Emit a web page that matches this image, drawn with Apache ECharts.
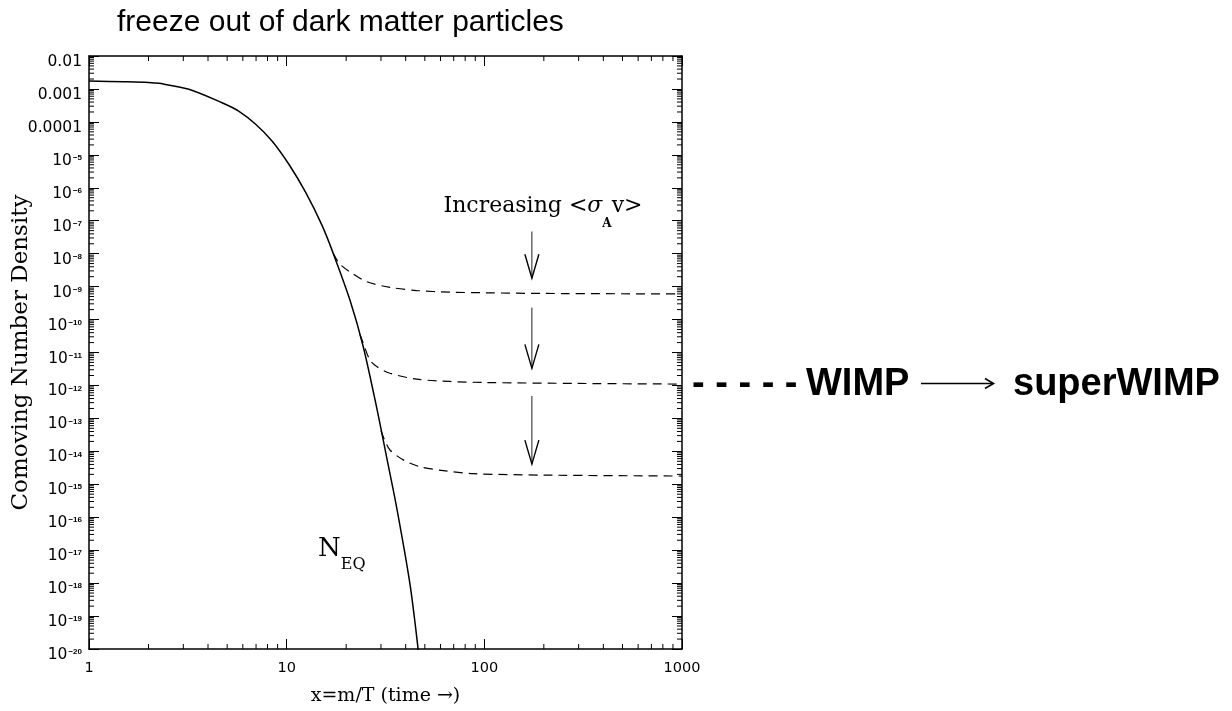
<!DOCTYPE html>
<html><head><meta charset="utf-8">
<script src="https://cdn.jsdelivr.net/npm/echarts@6/dist/echarts.min.js"></script>
<style>html,body{margin:0;padding:0;background:#fff}#c{width:1232px;height:711px}</style>
</head><body><div id="c"></div>
<script>
// ---- data ----
const xEq   = [1, 1.5, 2, 2.26, 3.2, 4.71, 5.74, 6.97, 8.45, 10.3, 12.5, 15.1, 17.2, 20.9, 24.4, 28.5, 32, 36, 42, 46.3];
const nEq   = [1.74e-3, 1.66e-3, 1.58e-3, 1.48e-3, 9.8e-4, 3.8e-4, 2.1e-4, 8.5e-5, 2.6e-5, 5.0e-6, 7.1e-7, 7.2e-8, 1.02e-8, 3.9e-10, 1.5e-11, 2.2e-13, 6.9e-15, 2.0e-16, 9.8e-19, 9.3e-21];
const xFo1  = [17.2, 18.5, 20.9, 25.4, 33.3, 45.5, 67, 100, 200, 1000];
const nFo1  = [1.02e-8, 5.0e-9, 2.8e-9, 1.41e-9, 9.5e-10, 7.6e-10, 6.8e-10, 6.5e-10, 6.2e-10, 6.0e-10];
const xFo2  = [23.5, 24.5, 26.4, 29, 33.3, 45.5, 67, 100, 300, 1000];
const nFo2  = [3.5e-11, 1.78e-11, 5.9e-12, 3.5e-12, 2.34e-12, 1.55e-12, 1.32e-12, 1.23e-12, 1.15e-12, 1.10e-12];
const xFo3  = [30, 31.5, 33.3, 38.9, 47.3, 62, 88, 200, 1000];
const nFo3  = [4.2e-14, 2.0e-14, 1.1e-14, 5.5e-15, 3.4e-15, 2.6e-15, 2.1e-15, 1.9e-15, 1.78e-15];
const arrowX    = [174, 174, 174];
const arrowFrom = [4.7e-8, 2.3e-10, 4.8e-13];
const arrowTo   = [1.8e-9, 3.3e-12, 4.1e-15];
const xTickLabels = ['1', '10', '100', '1000'];
const yPlainLabels = {'-2': '0.01', '-3': '0.001', '-4': '0.0001'};
const xMin = 1, xMax = 1000, yMin = 1e-20, yMax = 0.01;

const zip = (a, b) => a.map((v, i) => [v, b[i]]);
const xMinor = [], yMinor = [];
for (let k = 0; k < 3; k++) for (let m = 2; m <= 9; m++) xMinor.push([m * Math.pow(10, k), 1e-10]);
for (let k = -20; k < -2; k++) for (let m = 2; m <= 9; m++) yMinor.push([10, m * Math.pow(10, k)]);

const chart = echarts.init(document.getElementById('c'), null, {renderer: 'canvas'});
const black = '#000';
const axisBase = {
  axisLine: {show: true, lineStyle: {color: black, width: 1.5}},
  axisTick: {show: true, inside: true, length: 10, lineStyle: {color: black, width: 1}},
  splitLine: {show: false}
};
function yLabel(v) {
  const e = Math.round(Math.log10(v));
  if (yPlainLabels[String(e)]) return '{n|' + yPlainLabels[String(e)] + '}';
  return '{n|10}{e|\u2212' + (-e) + '}';
}
function xLabel(v) {
  const e = Math.round(Math.log10(v));
  return xTickLabels[e] || '';
}
function minorXRender(params, api) {
  const v = api.value(0);
  const b = api.coord([v, yMin]);
  const t = api.coord([v, yMax]);
  return {type: 'group', children: [
    {type: 'line', shape: {x1: b[0], y1: b[1], x2: b[0], y2: b[1] - 5}, style: {stroke: black, lineWidth: 1}},
    {type: 'line', shape: {x1: t[0], y1: t[1], x2: t[0], y2: t[1] + 5}, style: {stroke: black, lineWidth: 1}}
  ]};
}
function minorYRender(params, api) {
  const v = api.value(1);
  const l = api.coord([xMin, v]);
  const r = api.coord([xMax, v]);
  return {type: 'group', children: [
    {type: 'line', shape: {x1: l[0], y1: l[1], x2: l[0] + 5, y2: l[1]}, style: {stroke: black, lineWidth: 1}},
    {type: 'line', shape: {x1: r[0], y1: r[1], x2: r[0] - 5, y2: r[1]}, style: {stroke: black, lineWidth: 1}}
  ]};
}
function arrowRender(params, api) {
  const top = api.coord([api.value(0), api.value(1)]);
  const tip = api.coord([api.value(0), api.value(2)]);
  return {type: 'group', children: [
    {type: 'line', shape: {x1: top[0], y1: top[1], x2: tip[0], y2: tip[1]}, style: {stroke: '#222', lineWidth: 1}},
    {type: 'polyline', shape: {points: [[tip[0] - 7, tip[1] - 24], [tip[0], tip[1]], [tip[0] + 7, tip[1] - 24]]},
     style: {stroke: black, fill: null, lineWidth: 1.4}}
  ]};
}
const boldBig = {fontFamily: 'Liberation Sans', fontSize: 38, fontWeight: 'bold', fill: black};

const option = {
  animation: false,
  backgroundColor: '#fff',
  title: {
    text: 'freeze out of dark matter particles', left: 117, top: 8, padding: 0,
    textStyle: {fontFamily: 'Liberation Sans', fontSize: 30, fontWeight: 'normal', color: black}
  },
  grid: {left: 89, top: 56, width: 593, height: 593, containLabel: false},
  xAxis: [
    Object.assign({}, axisBase, {
      type: 'log', logBase: 10, min: xMin, max: xMax, interval: 1,
      name: 'x=m/T (time \u2192)', nameLocation: 'middle', nameGap: 38, nameMoveOverlap: false,
      nameTextStyle: {fontFamily: 'DejaVu Serif', fontSize: 19, color: black},
      axisLabel: {show: true, margin: 12, formatter: xLabel, showMinLabel: true, showMaxLabel: true,
        fontFamily: 'DejaVu Sans', fontSize: 14.5, color: black}
    }),
    Object.assign({}, axisBase, {
      type: 'log', logBase: 10, min: xMin, max: xMax, interval: 1, position: 'top',
      axisLabel: {show: false}
    })
  ],
  yAxis: [
    Object.assign({}, axisBase, {
      type: 'log', logBase: 10, min: yMin, max: yMax, interval: 1,
      name: 'Comoving Number Density', nameLocation: 'middle', nameGap: 56, nameMoveOverlap: false,
      nameTextStyle: {fontFamily: 'DejaVu Serif', fontSize: 23, color: black},
      axisLabel: {show: true, margin: 7, formatter: yLabel, showMinLabel: true, showMaxLabel: true,
        rich: {
          n: {fontFamily: 'DejaVu Sans', fontSize: 15.5, lineHeight: 16, color: black, verticalAlign: 'top', padding: [6, 0, 0, 0]},
          e: {fontFamily: 'Liberation Sans', fontSize: 8, fontWeight: 'bold', lineHeight: 8, color: black, verticalAlign: 'top', padding: [7, 0, 0, 1]}
        }}
    }),
    Object.assign({}, axisBase, {
      type: 'log', logBase: 10, min: yMin, max: yMax, interval: 1, position: 'right',
      axisLabel: {show: false}
    })
  ],
  series: [
    {type: 'line', name: 'NEQ', data: zip(xEq, nEq), showSymbol: false, smooth: 0.3, clip: true,
     lineStyle: {color: black, width: 1.5}, z: 5},
    {type: 'line', name: 'fo1', data: zip(xFo1, nFo1), showSymbol: false, smooth: 0.3, clip: true,
     lineStyle: {color: black, width: 1.2, type: [9, 6]}},
    {type: 'line', name: 'fo2', data: zip(xFo2, nFo2), showSymbol: false, smooth: 0.3, clip: true,
     lineStyle: {color: black, width: 1.2, type: [9, 6]}},
    {type: 'line', name: 'fo3', data: zip(xFo3, nFo3), showSymbol: false, smooth: 0.3, clip: true,
     lineStyle: {color: black, width: 1.2, type: [9, 6]}},
    {type: 'custom', name: 'arrows', renderItem: arrowRender, encode: {x: 0, y: [1, 2]},
     data: arrowX.map((x, i) => [x, arrowFrom[i], arrowTo[i]])},
    {type: 'custom', name: 'xminor', renderItem: minorXRender, encode: {x: 0, y: 1}, data: xMinor, silent: true},
    {type: 'custom', name: 'yminor', renderItem: minorYRender, encode: {x: 0, y: 1}, data: yMinor, silent: true}
  ],
  graphic: [
    {type: 'text', left: 692, top: 366, style: Object.assign({text: '- - - - -'}, boldBig)},
    {type: 'text', left: 806, top: 366, style: Object.assign({text: 'WIMP'}, boldBig)},
    {type: 'text', left: 1013, top: 366, style: Object.assign({text: 'superWIMP'}, boldBig)},
    {type: 'line', shape: {x1: 921, y1: 383.5, x2: 993, y2: 383.5}, style: {stroke: black, lineWidth: 1.6}},
    {type: 'polyline', shape: {points: [[985, 378.5], [993.5, 383.5], [985, 388.5]]}, style: {stroke: black, fill: null, lineWidth: 1.6}},
    {type: 'text', x: 543, y: 207, style: {
      text: '{t|Increasing <}{g|\u03C3}{s|A}{t|v>}',
      align: 'center', verticalAlign: 'middle', textAlign: 'center', textVerticalAlign: 'middle',
      rich: {
        t: {fontFamily: 'DejaVu Serif', fontSize: 22, lineHeight: 24, verticalAlign: 'top', fill: black, color: black},
        g: {fontFamily: 'DejaVu Serif', fontSize: 22, fontStyle: 'italic', lineHeight: 24, verticalAlign: 'top', fill: black, color: black},
        s: {fontFamily: 'DejaVu Serif', fontSize: 12, fontWeight: 'bold', lineHeight: 12, verticalAlign: 'top', padding: [23, 0, 0, 0], fill: black, color: black}
      }
    }},
    {type: 'text', x: 318, y: 536, style: {
      text: '{n|N}{s|EQ}',
      align: 'left', verticalAlign: 'top', textAlign: 'left', textVerticalAlign: 'top',
      rich: {
        n: {fontFamily: 'DejaVu Serif', fontSize: 26, lineHeight: 28, verticalAlign: 'top', fill: black, color: black},
        s: {fontFamily: 'DejaVu Serif', fontSize: 16, lineHeight: 16, verticalAlign: 'top', padding: [21, 0, 0, 0], fill: black, color: black}
      }
    }}
  ]
};
chart.setOption(option);
</script>
</body></html>
